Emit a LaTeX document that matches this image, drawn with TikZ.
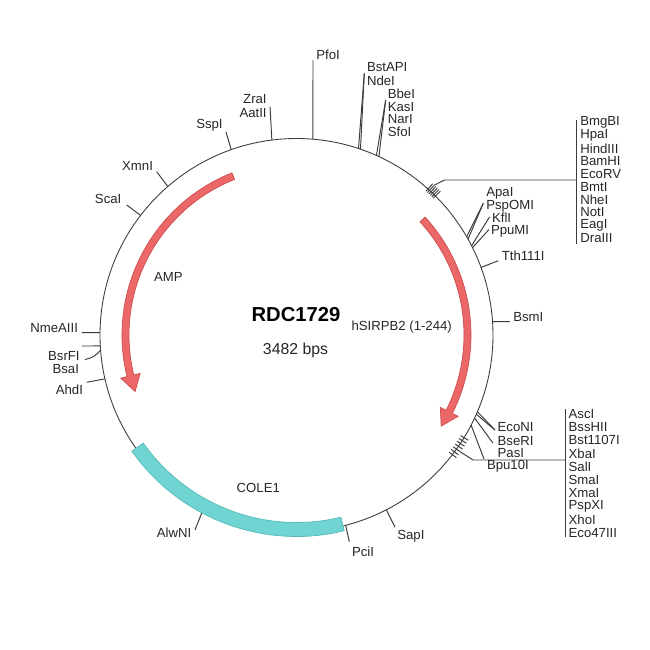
\documentclass[tikz,border=0pt]{standalone}
\usepackage{fontspec}
\setmainfont{Liberation Sans}
\usepackage{tikz}
\usetikzlibrary{calc}
\definecolor{featred}{RGB}{236,104,104}
\definecolor{featreddark}{RGB}{205,78,78}
\definecolor{featcyan}{RGB}{112,212,210}
\definecolor{featcyandark}{RGB}{88,186,184}
\definecolor{mapline}{RGB}{60,60,60}

\begin{document}
\begin{tikzpicture}[x=0.02cm,y=0.02cm,
  cut/.style={draw=mapline,line width=0.55pt},
  lab/.style={font=\fontsize{7.5}{8}\selectfont,text=black!85,inner sep=0pt},
  feat/.style={font=\fontsize{7.5}{8}\selectfont,text=black!85,inner sep=0pt}]
\useasboundingbox (-296.5,-315) rectangle (353.5,335);
\coordinate (o) at (0,0);
\draw[draw=mapline,line width=0.5pt] (o) circle[radius=196.5];
\node (name) at (-0.5,20) [font=\fontsize{11.5}{12}\selectfont\bfseries,inner sep=0pt] {RDC1729};
\node (size) at (-1,-15.5) [font=\fontsize{9}{10}\selectfont,text=black!85,inner sep=0pt] {3482 bps};
\node (amp) at (-128.2,58.3) [feat] {AMP};
\node (sirp) at (105.2,7.5) [feat] {hSIRPB2 (1-244)};
\node (cole) at (-38.2,-153.3) [feat] {COLE1};
\coordinate (sspic) at (109.4:196.5);
\coordinate (sspie) at (-70.5,203);
\draw[cut] (sspic) to (sspie);
\node (sspi) at (-73.5,210) [lab,anchor=east] {SspI};
\coordinate (zraic) at (97.2:196.5);
\coordinate (zraie) at (-26.5,228.3);
\draw[cut] (zraic) to (zraie);
\node (zrai) at (-29.5,236) [lab,anchor=east] {ZraI};
\node (aatii) at (-29.5,222.3) [lab,anchor=east] {AatII};
\coordinate (pfoic) at (85.2:196.5);
\coordinate (pfoie) at (16.5,275);
\draw[cut] (pfoic) to (pfoie);
\node (pfoi) at (19.5,280) [lab,anchor=west] {PfoI};
\coordinate (bstapic) at (71.0:196.5);
\coordinate (ndeic) at (71.6:196.5);
\coordinate (bstapie) at (67.8,261.7);
\draw[cut] (bstapic) to (bstapie);
\draw[cut] (ndeic) to (bstapie);
\node (bstapi) at (70.2,268) [lab,anchor=west] {BstAPI};
\node (ndei) at (70.2,254.3) [lab,anchor=west] {NdeI};
\coordinate (bbeic) at (65.2:196.5);
\coordinate (sfoic) at (66.0:196.5);
\coordinate (bbeie) at (89.2,235);
\draw[cut] (bbeic) to (bbeie);
\draw[cut] (sfoic) to (bbeie);
\node (bbei) at (91,241.7) [lab,anchor=west] {BbeI};
\node (kasi) at (91,228.3) [lab,anchor=west] {KasI};
\node (nari) at (91,215.7) [lab,anchor=west] {NarI};
\node (sfoi) at (91,203) [lab,anchor=west] {SfoI};
\draw[cut] (45.0:193.5) to (45.0:203.5);
\draw[cut] (45.6:193.5) to (45.6:203.5);
\draw[cut] (46.2:193.5) to (46.2:203.5);
\draw[cut] (46.8:193.5) to (46.8:203.5);
\draw[cut] (47.4:193.5) to (47.4:203.5);
\draw[cut] (48.0:193.5) to (48.0:203.5);
\coordinate (mcsa) at (47.4:203.5);
\coordinate (mcsb) at (148,155);
\coordinate (mcsc) at (280.2,155);
\coordinate (mcstop) at (280.2,215);
\coordinate (mcsbot) at (280.2,91);
\draw[cut] (mcsa) to (mcsb) to (mcsc);
\draw[cut] (mcstop) to (mcsbot);
\node (bmgbi) at (283.5,212.3) [lab,anchor=west] {BmgBI};
\node (hpai) at (283.5,199.5) [lab,anchor=west] {HpaI};
\node (hindiii) at (283.5,186.7) [lab,anchor=west] {HindIII};
\node (bamhi) at (283.5,173.9) [lab,anchor=west] {BamHI};
\node (ecorv) at (283.5,161.1) [lab,anchor=west] {EcoRV};
\node (bmti) at (283.5,148.3) [lab,anchor=west] {BmtI};
\node (nhei) at (283.5,135.5) [lab,anchor=west] {NheI};
\node (noti) at (283.5,122.7) [lab,anchor=west] {NotI};
\node (eagi) at (283.5,109.9) [lab,anchor=west] {EagI};
\node (draiii) at (283.5,97.1) [lab,anchor=west] {DraIII};
\coordinate (apaic) at (29.2:196.5);
\coordinate (pspomic) at (30.0:196.5);
\coordinate (apaie) at (186.8,131.7);
\draw[cut] (apaic) to (apaie);
\draw[cut] (pspomic) to (apaie);
\node (apai) at (189.5,141.7) [lab,anchor=west] {ApaI};
\node (pspomi) at (189.5,128.3) [lab,anchor=west] {PspOMI};
\coordinate (kflic) at (27.0:196.5);
\coordinate (kflie) at (193,118);
\coordinate (ppumic) at (26.4:196.5);
\coordinate (ppumie) at (192.5,105.5);
\draw[cut] (kflic) to (kflie);
\draw[cut] (ppumic) to (ppumie);
\node (kfli) at (195.2,117) [lab,anchor=west] {KflI};
\node (ppumi) at (194.2,103.3) [lab,anchor=west] {PpuMI};
\coordinate (tthc) at (20.1:196.5);
\coordinate (tthe) at (201.8,74.3);
\draw[cut] (tthc) to (tthe);
\node (tth) at (205,79.5) [lab,anchor=west] {Tth111I};
\coordinate (bsmic) at (3.9:196.5);
\coordinate (bsmie) at (213.5,13.4);
\draw[cut] (bsmic) to (bsmie);
\node (bsmi) at (216.5,18.3) [lab,anchor=west] {BsmI};
\coordinate (econic) at (-23.0:196.5);
\coordinate (econid) at (-23.8:196.5);
\coordinate (econie) at (198.5,-95);
\draw[cut] (econic) to (econie);
\draw[cut] (econid) to (econie);
\node (econi) at (200.8,-92.3) [lab,anchor=west] {EcoNI};
\coordinate (bseric) at (-25.0:196.5);
\coordinate (bserie) at (196.5,-108);
\draw[cut] (bseric) to (bserie);
\node (bseri) at (200.8,-105.7) [lab,anchor=west] {BseRI};
\coordinate (pasic) at (-27.3:196.5);
\coordinate (pasie) at (187.5,-124);
\draw[cut] (pasic) to (pasie);
\node (pasi) at (200.8,-118) [lab,anchor=west] {PasI};
\draw[cut] (-31.5:192.5) to (-31.5:201.5);
\draw[cut] (-32.5:192.5) to (-32.5:201.5);
\draw[cut] (-33.5:192.5) to (-33.5:201.5);
\draw[cut] (-34.5:192.5) to (-34.5:201.5);
\draw[cut] (-35.5:192.5) to (-35.5:201.5);
\draw[cut] (-36.5:192.5) to (-36.5:201.5);
\draw[cut] (-37.5:192.5) to (-37.5:201.5);
\coordinate (mcs2a) at (-35.5:201.5);
\coordinate (mcs2b) at (176.5,-125);
\coordinate (mcs2c) at (268.5,-125);
\coordinate (mcs2top) at (268.5,-74);
\coordinate (mcs2bot) at (268.5,-202);
\draw[cut] (mcs2a) to (mcs2b) to (mcs2c);
\draw[cut] (mcs2top) to (mcs2bot);
\node (bpu) at (190.2,-131) [lab,anchor=west] {Bpu10I};
\node (asci) at (271.8,-79) [lab,anchor=west] {AscI};
\node (bsshii) at (271.8,-92.2) [lab,anchor=west] {BssHII};
\node (bst) at (271.8,-105.4) [lab,anchor=west] {Bst1107I};
\node (xbai) at (271.8,-118.6) [lab,anchor=west] {XbaI};
\node (sali) at (271.8,-131.8) [lab,anchor=west] {SalI};
\node (smai) at (271.8,-145) [lab,anchor=west] {SmaI};
\node (xmai) at (271.8,-158.2) [lab,anchor=west] {XmaI};
\node (pspxi) at (271.8,-171.4) [lab,anchor=west] {PspXI};
\node (xhoi) at (271.8,-184.6) [lab,anchor=west] {XhoI};
\node (eco47) at (271.8,-197.8) [lab,anchor=west] {Eco47III};
\coordinate (sapic) at (-62.8:196.5);
\coordinate (sapie) at (98.5,-192.3);
\draw[cut] (sapic) to (sapie);
\node (sapi) at (100.5,-201.5) [lab,anchor=west] {SapI};
\coordinate (pcic) at (-75.5:196.5);
\coordinate (pcie) at (52.8,-206.7);
\draw[cut] (pcic) to (pcie);
\node (pcii) at (55.2,-216.7) [lab,anchor=west] {PciI};
\coordinate (alwnic) at (241.8:196.5);
\coordinate (alwnie) at (-101.5,-195);
\draw[cut] (alwnic) to (alwnie);
\node (alwni) at (-104.8,-198) [lab,anchor=east] {AlwNI};
\coordinate (xmnic) at (130.9:196.5);
\coordinate (xmnie) at (-139.8,163.3);
\draw[cut] (xmnic) to (xmnie);
\node (xmni) at (-143.2,169.2) [lab,anchor=east] {XmnI};
\coordinate (scaic) at (142.5:196.5);
\coordinate (scaie) at (-169.8,130);
\draw[cut] (scaic) to (scaie);
\node (scai) at (-174.8,136.2) [lab,anchor=east] {ScaI};
\coordinate (nmec) at (179.3:196.5);
\coordinate (nmee) at (-214.8,2.3);
\draw[cut] (nmec) to (nmee);
\node (nme) at (-218.2,7) [lab,anchor=east] {NmeAIII};
\coordinate (bsrfic) at (183.2:196.5);
\coordinate (bsrfie) at (-214.8,-11);
\draw[cut] (bsrfic) to (bsrfie);
\node (bsrfi) at (-216.5,-20.8) [lab,anchor=east] {BsrFI};
\coordinate (bsaic) at (184.4:196.5);
\coordinate (bsaie) at (-211.5,-24.5);
\draw[cut] (bsaic) to[bend left=20] (bsaie);
\node (bsai) at (-217.2,-34.5) [lab,anchor=east] {BsaI};
\coordinate (ahdic) at (192.9:196.5);
\coordinate (ahdie) at (-209.8,-47.3);
\draw[cut] (ahdic) to (ahdie);
\node (ahdi) at (-213.2,-54.5) [lab,anchor=east] {AhdI};
\filldraw[fill=featcyan,draw=featcyandark,line width=0.4pt] (215.2:201.5) arc[start angle=215.2,end angle=283.7,radius=201.5] -- (283.7:187.5) arc[start angle=283.7,end angle=215.2,radius=187.5] -- cycle;
\filldraw[fill=featred,draw=featreddark,line width=0.4pt] (111.7:174.5) arc[start angle=111.7,end angle=193.8,radius=174.5] -- (193.8:181) -- (199.3:171) -- (193.8:161) -- (193.8:167.5) arc[start angle=193.8,end angle=111.7,radius=167.5] -- cycle;
\filldraw[fill=featred,draw=featreddark,line width=0.4pt] (42.5:174.5) arc[start angle=42.5,end angle=-26.7,radius=174.5] -- (-26.7:181) -- (-32.2:171) -- (-26.7:161) -- (-26.7:167.5) arc[start angle=-26.7,end angle=42.5,radius=167.5] -- cycle;
\end{tikzpicture}
\end{document}
